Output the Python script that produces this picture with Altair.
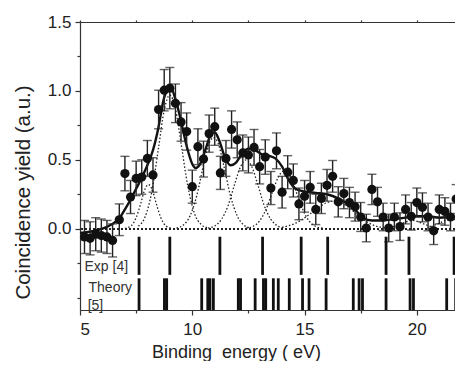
import altair as alt
import pandas as pd

# ---------------- data ----------------
energy = [5.2, 5.45, 5.7, 5.95, 6.2, 6.45, 6.75, 7.0, 7.25, 7.5, 7.75, 8.0, 8.25, 8.5,
          8.75, 9.0, 9.25, 9.5, 9.75, 10.0, 10.25, 10.5, 10.75, 11.0, 11.25, 11.5, 11.75,
          12.0, 12.25, 12.5, 12.75, 13.0, 13.25, 13.5, 13.75, 14.0, 14.25, 14.5, 14.75,
          15.0, 15.25, 15.5, 15.75, 16.0, 16.25, 16.5, 16.75, 17.0, 17.25, 17.5, 17.75,
          18.0, 18.25, 18.5, 18.75, 19.0, 19.25, 19.5, 19.75, 20.0, 20.25, 20.5, 20.75,
          21.0, 21.25, 21.5, 21.75, 22.0]
yield_val = [-0.06, -0.07, -0.04, -0.05, -0.06, -0.085, 0.065, 0.40, 0.23, 0.365, 0.375,
             0.51, 0.39, 0.865, 1.005, 1.02, 0.91, 0.775, 0.705, 0.305, 0.595, 0.505, 0.69,
             0.74, 0.405, 0.51, 0.72, 0.645, 0.55, 0.535, 0.59, 0.45, 0.52, 0.295, 0.565,
             0.265, 0.41, 0.35, 0.18, 0.235, 0.30, 0.14, 0.22, 0.315, 0.38, 0.195, 0.255,
             0.19, 0.16, 0.085, 0.005, 0.285, 0.195, 0.085, 0.005, 0.085, 0.015, 0.14, 0.09,
             0.19, 0.155, 0.085, -0.015, 0.14, 0.125, 0.085, 0.215, 0.135]
yield_err = [0.12, 0.12, 0.12, 0.12, 0.12, 0.12, 0.115, 0.125, 0.12, 0.125, 0.125,
             0.13, 0.125, 0.14, 0.15, 0.15, 0.14, 0.14, 0.135, 0.12, 0.13, 0.13, 0.135,
             0.135, 0.12, 0.13, 0.135, 0.13, 0.13, 0.13, 0.13, 0.125, 0.125, 0.12, 0.13,
             0.115, 0.12, 0.12, 0.115, 0.115, 0.115, 0.11, 0.11, 0.115, 0.115, 0.11, 0.11,
             0.11, 0.105, 0.105, 0.10, 0.11, 0.105, 0.10, 0.10, 0.10, 0.10, 0.105, 0.10,
             0.105, 0.105, 0.10, 0.10, 0.105, 0.10, 0.10, 0.105, 0.10]

# solid fit curve
fit_x = [5.0, 5.5, 6.0, 6.4, 6.75, 7.0, 7.25, 7.5, 7.75, 8.0, 8.25, 8.5, 8.7, 8.9, 9.05,
         9.25, 9.5, 9.75, 10.0, 10.15, 10.35, 10.6, 10.85, 11.0, 11.2, 11.45, 11.7, 11.95,
         12.2, 12.5, 12.8, 13.1, 13.4, 13.7, 14.0, 14.3, 14.6, 15.0, 15.5, 16.0, 16.5,
         17.0, 17.3, 17.6, 18.0, 18.5, 19.0, 19.5, 20.0, 20.5, 21.0, 21.5, 22.0]
fit_y = [-0.03, -0.02, 0.0, 0.03, 0.075, 0.14, 0.21, 0.29, 0.37, 0.46, 0.57, 0.74, 0.92,
         1.01, 1.02, 0.94, 0.78, 0.60, 0.47, 0.44, 0.47, 0.58, 0.69, 0.70, 0.64, 0.52,
         0.46, 0.48, 0.54, 0.58, 0.57, 0.54, 0.53, 0.51, 0.45, 0.35, 0.29, 0.27, 0.26,
         0.25, 0.22, 0.17, 0.13, 0.08, 0.06, 0.06, 0.07, 0.08, 0.09, 0.09, 0.08, 0.085, 0.09]

# dotted component peaks
c1_x = [7.0, 7.3, 7.5, 7.7, 7.9, 8.05, 8.2, 8.4, 8.6, 8.8, 9.1]
c1_y = [0.002, 0.024, 0.08, 0.18, 0.29, 0.32, 0.29, 0.18, 0.08, 0.024, 0.002]
c2_x = [7.6, 7.9, 8.2, 8.5, 8.75, 9.0, 9.25, 9.5, 9.8, 10.1, 10.4, 10.7]
c2_y = [0.019, 0.086, 0.27, 0.59, 0.86, 0.97, 0.87, 0.62, 0.31, 0.11, 0.03, 0.006]
c3_x = [9.3, 9.6, 9.9, 10.2, 10.5, 10.75, 10.95, 11.15, 11.4, 11.7, 12.0, 12.3, 12.6]
c3_y = [0.005, 0.026, 0.093, 0.24, 0.46, 0.62, 0.66, 0.62, 0.46, 0.24, 0.093, 0.026, 0.005]
c4_x = [10.7, 11.0, 11.3, 11.6, 11.9, 12.15, 12.4, 12.65, 12.9, 13.2, 13.5, 13.8, 14.1]
c4_y = [0.004, 0.02, 0.068, 0.17, 0.33, 0.45, 0.50, 0.45, 0.33, 0.17, 0.068, 0.02, 0.004]
c5_x = [12.4, 12.7, 13.0, 13.3, 13.6, 13.85, 14.1, 14.35, 14.6, 14.9, 15.2, 15.5, 15.8]
c5_y = [0.0035, 0.016, 0.057, 0.146, 0.28, 0.38, 0.42, 0.38, 0.28, 0.146, 0.057, 0.016, 0.0035]
c6_x = [14.0, 14.6, 15.1, 15.6, 16.0, 16.3, 16.6, 17.0, 17.5, 18.0, 18.6]
c6_y = [0.01, 0.04, 0.09, 0.15, 0.19, 0.20, 0.19, 0.15, 0.08, 0.03, 0.005]
c7_x = [18.8, 19.3, 19.8, 20.3, 20.8]
c7_y = [0.003, 0.035, 0.06, 0.035, 0.003]
c8_x = [20.5, 21.0, 21.5, 22.0]
c8_y = [0.004, 0.04, 0.07, 0.05]

# transition energies (stick spectra)
exp_lines = [7.63, 9.0, 11.23, 13.13, 14.85, 16.03, 18.63, 19.65, 21.66]
theory_lines = [7.63, 8.76, 8.86, 10.42, 10.69, 10.79, 10.94, 12.05, 12.15, 12.8, 13.17,
                13.27, 13.61, 13.83, 14.32, 14.91, 15.2, 15.96, 17.17, 17.43, 17.58,
                18.63, 19.70, 19.85, 21.33, 21.73]

# ---------------- tables ----------------
pts = pd.DataFrame({"E": energy, "Y": yield_val, "err": yield_err})
pts["lo"] = pts["Y"] - pts["err"]
pts["hi"] = pts["Y"] + pts["err"]

fit = pd.DataFrame({"E": fit_x, "Y": fit_y})

comp_rows = []
for name, xs_, ys_ in [("c1", c1_x, c1_y), ("c2", c2_x, c2_y), ("c3", c3_x, c3_y),
                       ("c4", c4_x, c4_y), ("c5", c5_x, c5_y), ("c6", c6_x, c6_y),
                       ("c7", c7_x, c7_y), ("c8", c8_x, c8_y)]:
    for xv, yv in zip(xs_, ys_):
        comp_rows.append({"comp": name, "E": xv, "Y": yv})
comps = pd.DataFrame(comp_rows)

row_band = {"exp": (-0.058, -0.335), "theory": (-0.36, -0.59)}
stick_rows = [{"E": e, "top": row_band["exp"][0], "bot": row_band["exp"][1]} for e in exp_lines]
stick_rows += [{"E": e, "top": row_band["theory"][0], "bot": row_band["theory"][1]} for e in theory_lines]
sticks = pd.DataFrame(stick_rows)

labels = pd.DataFrame({
    "text": ["Exp [4]", "Theory", "[5]"],
    "E": [5.2, 5.38, 5.34],
    "Y": [-0.278, -0.43, -0.56],
})

# ---------------- chart ----------------
FONT = "Liberation Sans"
X_MAX = 21.7
xs = alt.Scale(domain=[5, X_MAX], nice=False, zero=False)
ys = alt.Scale(domain=[-0.59, 1.5], nice=False, zero=False)

x_ticks = [5, 7.5, 10, 12.5, 15, 17.5, 20]
y_ticks = [-0.5, -0.25, 0, 0.25, 0.5, 0.75, 1.0, 1.25, 1.5]

x_bottom = alt.Axis(
    values=x_ticks, title="Binding\u00a0 energy ( eV)",
    labelExpr="datum.value % 5 === 0 ? format(datum.value, 'd') : ''",
    tickSize={"condition": {"test": "datum.value % 5 === 0", "value": 5}, "value": 3},
    titleX=156, titleY=47, titleAlign="center", titleBaseline="alphabetic",
    titleFontSize=18, labelPadding=6, grid=False,
)
x_top = alt.Axis(values=x_ticks, orient="top", labels=False, tickSize=2, title=None, grid=False)
y_left = alt.Axis(
    values=y_ticks, title="Coincidence yield (a.u.)",
    labelExpr="(datum.value >= 0 && abs(datum.value % 0.5) < 1e-9) ? format(datum.value, '.1f') : ''",
    tickSize={"condition": {"test": "datum.value >= 0 && abs(datum.value % 0.5) < 1e-9", "value": 5}, "value": 3},
    titleX=-51, titleY=170, titleAngle=270, titleAlign="center", titleBaseline="alphabetic",
    titleFontSize=20.5, labelPadding=4, grid=False,
)

zero_line = alt.Chart(pts).mark_rule(color="#222", strokeWidth=1.3, strokeDash=[2, 2]).encode(
    y=alt.datum(0, scale=ys, axis=None)
)

comp_layer = alt.Chart(comps).mark_line(color="#222", strokeWidth=1.3, strokeDash=[1.5, 2],
                                        interpolate="monotone").encode(
    x=alt.X("E:Q", scale=xs, axis=None),
    y=alt.Y("Y:Q", scale=ys, axis=None),
    detail="comp:N",
)

fit_layer = alt.Chart(fit).mark_line(color="#111", strokeWidth=2.4, interpolate="monotone").encode(
    x=alt.X("E:Q", scale=xs, axis=None),
    y=alt.Y("Y:Q", scale=ys, axis=None),
)

err_rule = alt.Chart(pts).mark_rule(color="#222", strokeWidth=1.4).encode(
    x=alt.X("E:Q", scale=xs, axis=None),
    y=alt.Y("lo:Q", scale=ys, axis=None),
    y2="hi:Q",
)
cap_lo = alt.Chart(pts).mark_tick(color="#222", orient="horizontal", size=9, thickness=1.4).encode(
    x=alt.X("E:Q", scale=xs, axis=None),
    y=alt.Y("lo:Q", scale=ys, axis=None),
)
cap_hi = alt.Chart(pts).mark_tick(color="#222", orient="horizontal", size=9, thickness=1.4).encode(
    x=alt.X("E:Q", scale=xs, axis=None),
    y=alt.Y("hi:Q", scale=ys, axis=None),
)

dots = alt.Chart(pts).mark_circle(color="#111", size=85, opacity=1).encode(
    x=alt.X("E:Q", scale=xs, axis=x_bottom),
    y=alt.Y("Y:Q", scale=ys, axis=y_left),
)

stick_layer = alt.Chart(sticks).mark_rule(color="#111", strokeWidth=2.8).encode(
    x=alt.X("E:Q", scale=xs, axis=x_top),
    y=alt.Y("top:Q", scale=ys, axis=None),
    y2="bot:Q",
)

text_layer = alt.Chart(labels).mark_text(font=FONT, fontSize=14, color="#333", align="left",
                                         baseline="middle").encode(
    x=alt.X("E:Q", scale=xs, axis=None),
    y=alt.Y("Y:Q", scale=ys, axis=None),
    text="text:N",
)

chart = alt.layer(
    zero_line, comp_layer, fit_layer, err_rule, cap_lo, cap_hi, dots, stick_layer, text_layer
).resolve_axis(x="independent", y="independent").properties(
    width=375, height=288,
    autosize=alt.AutoSizeParams(type="none"),
    padding={"left": 72, "top": 14, "right": 0, "bottom": 51},
    background="white",
).configure_view(stroke=None).configure_axis(
    domainColor="#333", domainWidth=1.2, tickColor="#333", tickWidth=1.2,
    labelFont=FONT, labelFontSize=17, labelColor="#222",
    titleFont=FONT, titleColor="#222", titleFontWeight="normal",
)

chart.save("out.html", embed_options={"renderer": "svg", "actions": False})
